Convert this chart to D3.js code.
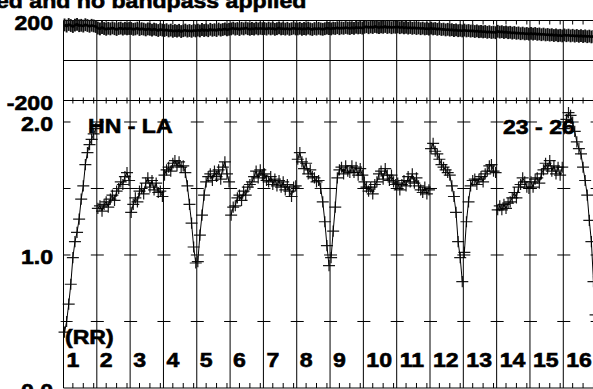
<!DOCTYPE html>
<html><head><meta charset="utf-8">
<script src="https://cdn.jsdelivr.net/npm/d3@7"></script>
<style>body{margin:0;background:#fff}svg{display:block}</style>
</head><body><svg id="c" width="593" height="389"></svg>
<script>
// ---- data ----
const ifLabels = ["1","2","3","4","5","6","7","8","9","10","11","12","13","14","15","16"];
const titleText = "ed and no bandpass applied";
const baselineLabel = "HN - LA";
const timeLabel = "23 - 26";
const polLabel = "(RR)";
const phaseTickLabels = ["200", "-200"];
const phaseTickValues = [200, -200];
const ampTickLabels = ["2.0", "1.0", "0.0"];
const ampTickValues = [2.0, 1.0, 0.0];
const ampCrossLevels = [0.5, 1.0, 1.5, 2.0];

const amp1  = [0.42,0.50,0.63,0.78,0.98,1.10,1.17,1.27,1.42,1.52,1.68,1.77,1.83,1.87,1.91,1.95];
const amp2  = [1.35,1.37,1.33,1.38,1.40,1.36,1.42,1.45,1.41,1.48,1.50,1.55,1.53,1.59,1.62,1.56];
const amp3  = [1.32,1.38,1.43,1.40,1.48,1.50,1.46,1.54,1.58,1.51,1.56,1.49,1.54,1.47,1.48,1.44];
const amp4  = [1.60,1.64,1.66,1.63,1.69,1.71,1.67,1.70,1.66,1.67,1.62,1.52,1.38,1.24,1.06,0.94];
const amp5  = [0.95,1.15,1.30,1.45,1.55,1.59,1.61,1.56,1.63,1.59,1.64,1.57,1.66,1.70,1.61,1.55];
const amp6  = [1.30,1.36,1.37,1.43,1.45,1.41,1.48,1.45,1.51,1.53,1.55,1.59,1.63,1.58,1.64,1.60];
const amp7  = [1.61,1.56,1.55,1.59,1.53,1.57,1.52,1.56,1.51,1.55,1.49,1.53,1.48,1.44,1.51,1.52];
const amp8  = [1.72,1.77,1.70,1.65,1.69,1.61,1.64,1.59,1.58,1.55,1.56,1.50,1.40,1.25,1.07,0.92];
const amp9  = [0.98,1.18,1.36,1.58,1.64,1.66,1.61,1.67,1.63,1.62,1.67,1.62,1.66,1.60,1.65,1.60];
const amp10 = [1.55,1.51,1.48,1.51,1.46,1.53,1.55,1.61,1.63,1.57,1.65,1.60,1.56,1.60,1.55,1.53];
const amp11 = [1.54,1.49,1.53,1.56,1.52,1.59,1.55,1.61,1.54,1.58,1.52,1.49,1.47,1.51,1.46,1.49];
const amp12 = [1.80,1.84,1.78,1.76,1.72,1.68,1.66,1.64,1.62,1.60,1.52,1.44,1.32,1.10,0.98,0.80];
const amp13 = [1.02,1.25,1.40,1.52,1.56,1.57,1.53,1.57,1.59,1.55,1.61,1.63,1.67,1.68,1.63,1.62];
const amp14 = [1.34,1.37,1.34,1.38,1.35,1.39,1.40,1.43,1.47,1.43,1.51,1.53,1.58,1.55,1.51,1.50];
const amp15 = [1.55,1.51,1.57,1.58,1.54,1.61,1.64,1.69,1.65,1.71,1.63,1.67,1.61,1.66,1.60,1.66];
const amp16 = [1.95,2.02,2.07,2.05,2.00,1.93,1.85,1.80,1.76,1.66,1.56,1.45,1.26,1.10,0.80,0.55];

const ph1  = [178,172,180,175,170,177,181,174,176,172,179,175,171,176,173,170];
const ph2  = [162,158,165,160,156,161,158,163,159,155,160,162,157,161,158,160];
const ph3  = [160,156,158,162,155,159,157,153,158,156,152,157,154,150,155,152];
const ph4  = [150,154,148,152,146,150,147,151,145,149,152,147,150,146,151,148];
const ph5  = [152,148,155,150,153,149,156,151,154,150,157,152,155,158,153,156];
const ph6  = [158,162,157,160,155,161,158,163,159,156,160,157,162,158,161,159];
const ph7  = [160,157,162,158,161,156,159,163,158,160,157,161,156,159,162,158];
const ph8  = [158,161,156,160,157,162,158,155,160,157,161,158,156,159,162,160];
const ph9  = [158,162,160,164,159,163,161,165,162,160,164,161,166,163,165,162];
const ph10 = [166,169,164,168,165,170,167,164,168,166,170,165,168,164,167,166];
const ph11 = [168,164,167,163,166,162,165,161,164,160,163,159,162,158,160,157];
const ph12 = [162,158,160,156,159,155,157,153,156,152,154,150,153,149,151,148];
const ph13 = [152,148,150,147,149,145,148,144,146,143,145,141,144,140,142,139];
const ph14 = [146,142,144,140,143,139,141,137,140,136,138,134,137,133,135,132];
const ph15 = [136,132,135,131,133,129,132,128,130,127,129,125,128,124,126,123];
const ph16 = [128,124,127,123,126,122,125,121,124,120,123,119,122,118,121,117];

const amplitudes = [amp1,amp2,amp3,amp4,amp5,amp6,amp7,amp8,amp9,amp10,amp11,amp12,amp13,amp14,amp15,amp16];
const phases = [ph1,ph2,ph3,ph4,ph5,ph6,ph7,ph8,ph9,ph10,ph11,ph12,ph13,ph14,ph15,ph16];
const phaseErr = 32;
const ampErr = 0.042;

// ---- chart ----
const nIF = amplitudes.length, nCh = amplitudes[0].length;
const svg = d3.select("#c");
const x = d3.scaleLinear().domain([0, nIF*nCh]).range([63.5, 596.6]);
const yP = d3.scaleLinear().domain([-200, 200]).range([100.5, 20.5]);
const yA = d3.scaleLinear().domain([0, 2.1654]).range([388, 100]);
const FONT = "'Liberation Sans', Arial, Helvetica, sans-serif";

function label(px, py, s, anchor) {
  svg.append("text")
    .attr("transform", `translate(${px},${py}) scale(1.1,1)`)
    .attr("text-anchor", anchor || "start")
    .attr("font-family", FONT).attr("font-weight", "bold").attr("font-size", 21)
    .attr("fill", "#000").attr("stroke", "#000").attr("stroke-width", 0.6)
    .text(s);
}

const g = svg.append("g").attr("fill", "none").attr("stroke", "#000").attr("stroke-width", 1);
const bounds = d3.range(nIF + 1).map(i => x(i*nCh));
bounds.forEach(bx => g.append("line").attr("x1", bx).attr("x2", bx).attr("y1", yP(200)).attr("y2", yA(0)));
[yP(200), yP(-200), yA(0)].forEach(yy => g.append("line").attr("x1", x(0)).attr("x2", x(nIF*nCh)).attr("y1", yy).attr("y2", yy));
g.append("line").attr("x1", x(0)).attr("x2", x(nIF*nCh)).attr("y1", yP(0)).attr("y2", yP(0));
const minor = [];
for (let i = 0; i < nIF; i++) [4.5, 9.5, 14.5].forEach(c => minor.push(x(i*nCh + c)));
minor.forEach(mx => {
  g.append("line").attr("x1", mx).attr("x2", mx).attr("y1", yP(200)).attr("y2", yP(200) + 4);
  g.append("line").attr("x1", mx).attr("x2", mx).attr("y1", yP(-200) - 3).attr("y2", yP(-200) + 3);
  g.append("line").attr("x1", mx).attr("x2", mx).attr("y1", yA(0) - 5).attr("y2", yA(0));
});
ampCrossLevels.forEach(v => {
  bounds.forEach((bx, i) => {
    const x1 = i === 0 ? bx : bx - 6;
    g.append("line").attr("x1", x1).attr("x2", bx + 7).attr("y1", yA(v)).attr("y2", yA(v));
  });
});

// labels
label(-4, 8, titleText, "start");
phaseTickValues.forEach((v, i) => label(53, yP(v) + 9.5, phaseTickLabels[i], "end"));
ampTickValues.forEach((v, i) => label(53, yA(v) + 9.5, ampTickLabels[i], "end"));
ifLabels.forEach((s, i) => label(x(i*nCh) + 3, 367, s, "start"));
label(65, 344, polLabel, "start");
label(88, 133, baselineLabel, "start");
label(503, 134, timeLabel, "start");

// phase data
const pg = svg.append("g").attr("fill", "none").attr("stroke", "#111");
phases.forEach((arr, i) => {
  arr.forEach((v, k) => {
    const cx = x(i*nCh + k + 0.5);
    pg.append("line").attr("x1", cx).attr("x2", cx).attr("y1", yP(v + phaseErr)).attr("y2", yP(v - phaseErr)).attr("stroke-width", 1.9);
  });
});
const allPh = [];
phases.forEach((arr, i) => arr.forEach((v, k) => allPh.push([i*nCh + k + 0.5, v])));
pg.append("path").attr("d", d3.line().x(d => x(d[0])).y(d => yP(d[1]))(allPh)).attr("stroke", "#000").attr("stroke-width", 2.6);

// amplitude data
const ag = svg.append("g").attr("fill", "none").attr("stroke", "#000").attr("stroke-width", 1);
amplitudes.forEach((arr, i) => {
  const pts = arr.map((v, k) => [i*nCh + k + 0.5, v]);
  ag.append("path").attr("d", d3.line().x(d => x(d[0])).y(d => yA(d[1]))(pts));
  pts.forEach(d => {
    const cx = x(d[0]), cy = yA(d[1]);
    const e = yA(d[1] - ampErr) - cy;
    ag.append("path").attr("stroke-opacity", 0.9).attr("stroke-width", 1.2)
      .attr("d", `M${cx-6},${cy}H${cx+6}M${cx},${cy-e}V${cy+e}`);
  });
});
</script></body></html>
